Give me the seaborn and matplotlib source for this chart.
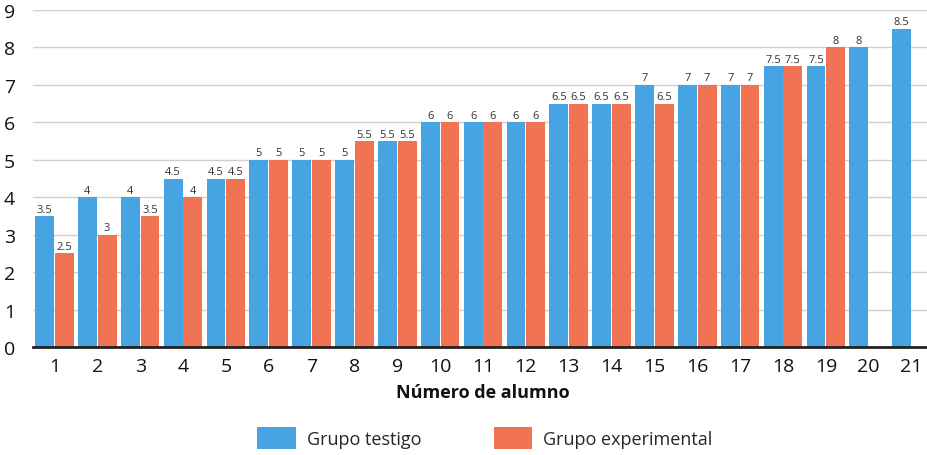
import numpy as np
import pandas as pd
import matplotlib
matplotlib.use("Agg")
import matplotlib.pyplot as plt
import seaborn as sns
from matplotlib.patches import Patch

# Student numbers and grades for each group
alumnos = [str(i) for i in range(1, 22)]
grupo_testigo = [3.5, 4, 4, 4.5, 4.5, 5, 5, 5, 5.5, 6, 6, 6, 6.5, 6.5, 7, 7, 7, 7.5, 7.5, 8, 8.5]
grupo_experimental = [2.5, 3, 3.5, 4, 4.5, 5, 5, 5.5, 5.5, 6, 6, 6, 6.5, 6.5, 6.5, 7, 7, 7.5, 8, np.nan, np.nan]
series = ["Grupo testigo", "Grupo experimental"]
colores = ["#47A4E2", "#F07453"]

df = pd.DataFrame({
    "alumno": alumnos * 2,
    "nota": grupo_testigo + grupo_experimental,
    "grupo": [series[0]] * len(alumnos) + [series[1]] * len(alumnos),
})

sns.set_style("white")
plt.rcParams["font.family"] = ["Open Sans", "DejaVu Sans"]

fig = plt.figure(figsize=(9.27, 4.56), dpi=100)
ax = fig.add_axes([33 / 927, 1 - 348 / 456, (933 - 33) / 927, (348 - 11) / 456])

sns.barplot(data=df, x="alumno", y="nota", hue="grupo", order=alumnos,
            hue_order=series, palette=colores, width=0.92, gap=0.04,
            saturation=1, edgecolor="none", legend=False, ax=ax)

for cont in ax.containers:
    etiquetas = [f"{v:g}" if np.isfinite(v) else "" for v in cont.datavalues]
    ax.bar_label(cont, labels=etiquetas, padding=1, fontsize=8, color="#333333")

ax.set_ylim(0, 9)
ax.set_xlim(-0.5, len(alumnos) - 0.5)
ax.set_yticks(range(0, 10))
ax.yaxis.grid(True, color="#D0D0D0", linewidth=1)
ax.set_axisbelow(True)
for s in ["top", "right", "left"]:
    ax.spines[s].set_visible(False)
ax.spines["bottom"].set_color("#222222")
ax.spines["bottom"].set_linewidth(2)
ax.tick_params(axis="both", length=0, labelsize=14, colors="#111111")
ax.tick_params(axis="y", pad=13)
ax.tick_params(axis="x", pad=7)
ax.set_ylabel("")
ax.set_xlabel("Número de alumno", fontsize=13, fontweight="bold", color="#111111", labelpad=6)

handles = [Patch(facecolor=c, edgecolor="none") for c in colores]
fig.legend(handles, series, loc="center", bbox_to_anchor=(0.523, 1 - 439 / 456),
           ncol=2, frameon=False, fontsize=13, handlelength=2.15, handleheight=1.45,
           handletextpad=0.6, columnspacing=4.0)

fig.savefig("out.png", dpi=100)
